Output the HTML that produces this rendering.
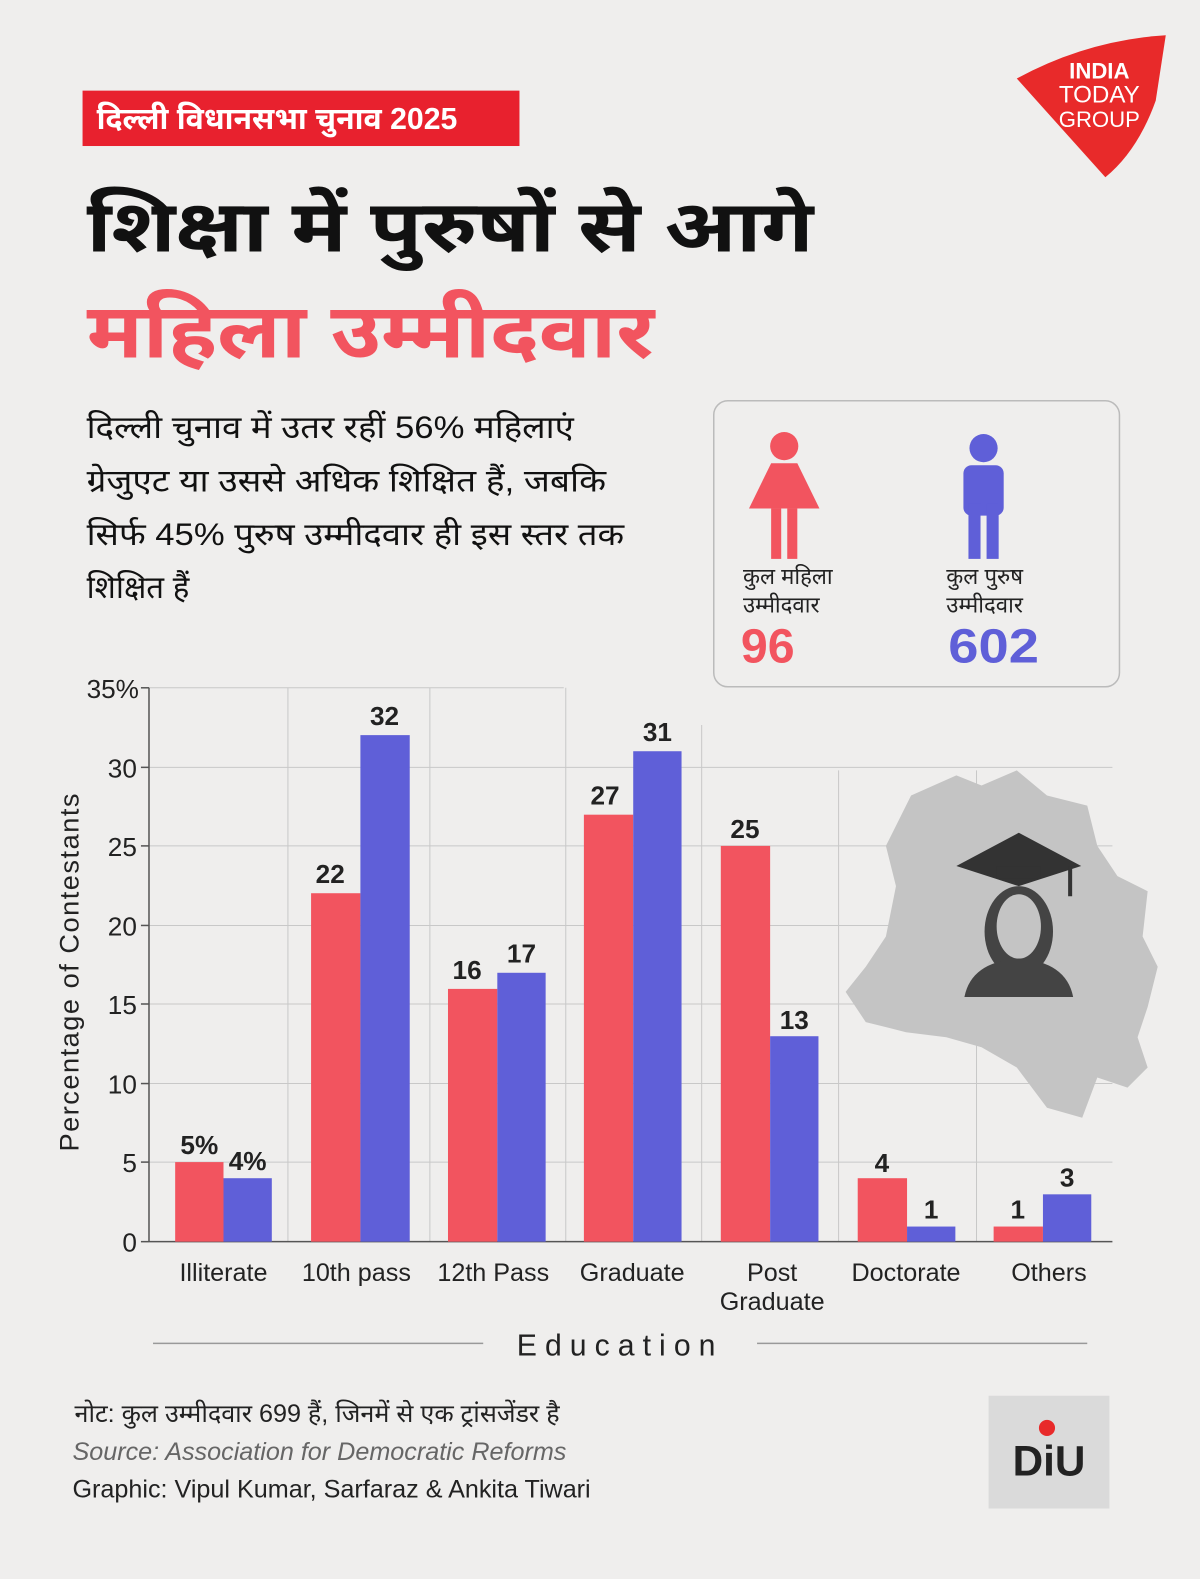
<!DOCTYPE html>
<html><head><meta charset="utf-8">
<style>
html,body{margin:0;padding:0;background:#efeeed;}
#w{width:1192px;height:1568px;transform:scale(1.00671,1.00702);transform-origin:0 0;position:relative;overflow:hidden;background:#efeeed;font-family:"Liberation Sans",sans-serif;}
svg text{font-family:"Liberation Sans","Noto Sans Devanagari","Lohit Devanagari",sans-serif;}
</style></head><body><div id="w">
<svg width="1192" height="1568" viewBox="0 0 1192 1568" xmlns="http://www.w3.org/2000/svg">
<rect width="1192" height="1568" fill="#efeeed"/>
<path d="M1010 78 Q1080 40 1158 35 L1148 100 Q1130 150 1098 176 Z" fill="#e82a2a"/>
<text x="1092" y="78" font-size="22" font-weight="bold" fill="#fff" text-anchor="middle">INDIA</text>
<text x="1092" y="102" font-size="24" fill="#fff" text-anchor="middle">TODAY</text>
<text x="1092" y="126" font-size="22" fill="#fff" text-anchor="middle">GROUP</text>
<rect x="82" y="90" width="434" height="55" fill="#e8212e"/>
<text x="96" y="128" font-size="30" font-weight="bold" fill="#fff">दिल्ली विधानसभा चुनाव 2025</text>
<text x="86" y="250" font-size="72" font-weight="bold" fill="#111" textLength="722" lengthAdjust="spacingAndGlyphs">शिक्षा में पुरुषों से आगे</text>
<text x="86" y="355" font-size="76" font-weight="bold" fill="#f2545f" textLength="564" lengthAdjust="spacingAndGlyphs">महिला उम्मीदवार</text>
<g font-size="31" fill="#111">
<text x="86" y="435" textLength="484" lengthAdjust="spacingAndGlyphs">दिल्ली चुनाव में उतर रहीं 56% महिलाएं</text>
<text x="86" y="488" textLength="516" lengthAdjust="spacingAndGlyphs">ग्रेजुएट या उससे अधिक शिक्षित हैं, जबकि</text>
<text x="86" y="541" textLength="534" lengthAdjust="spacingAndGlyphs">सिर्फ 45% पुरुष उम्मीदवार ही इस स्तर तक</text>
<text x="86" y="594">शिक्षित हैं</text>
</g>
<rect x="709" y="398" width="403" height="284" rx="14" fill="#efeeed" stroke="#bbb" stroke-width="1.5"/>
<g fill="#f2545f"><circle cx="779" cy="443" r="14"/><path d="M766 460 H792 L814 505 H744 Z"/><rect x="766" y="505" width="10" height="50"/><rect x="782" y="505" width="10" height="50"/></g>
<g fill="#5f5fd8"><circle cx="977" cy="445" r="14"/><rect x="957" y="462" width="40" height="50" rx="8"/><rect x="962" y="500" width="12" height="55"/><rect x="980" y="500" width="12" height="55"/></g>
<text x="738" y="580" font-size="22" fill="#222">कुल महिला</text><text x="738" y="608" font-size="22" fill="#222">उम्मीदवार</text>
<text x="940" y="580" font-size="22" fill="#222">कुल पुरुष</text><text x="940" y="608" font-size="22" fill="#222">उम्मीदवार</text>
<text x="736" y="658" font-size="48" font-weight="bold" fill="#f2545f">96</text>
<text x="942" y="658" font-size="48" font-weight="bold" fill="#5f5fd8" textLength="90" lengthAdjust="spacingAndGlyphs">602</text>
<g stroke="#c8c8c8" stroke-width="1">
<line x1="148" y1="1076" x2="1105" y2="1076"/><line x1="148" y1="997" x2="1105" y2="997"/><line x1="148" y1="919" x2="1105" y2="919"/><line x1="148" y1="840" x2="1105" y2="840"/><line x1="148" y1="762" x2="1105" y2="762"/><line x1="148" y1="683" x2="560" y2="683"/><line x1="148" y1="1154" x2="1105" y2="1154"/>
<line x1="286" y1="683" x2="286" y2="1233"/><line x1="427" y1="683" x2="427" y2="1233"/><line x1="562" y1="683" x2="562" y2="1233"/><line x1="697" y1="720" x2="697" y2="1233"/><line x1="833" y1="765" x2="833" y2="1233"/><line x1="970" y1="765" x2="970" y2="1233"/>
</g>
<path d="M905 790 L950 770 L975 780 L1010 765 L1040 790 L1080 800 L1090 840 L1110 870 L1140 885 L1135 930 L1150 960 L1140 1000 L1130 1030 L1140 1060 L1120 1080 L1090 1070 L1075 1110 L1040 1100 L1010 1060 L975 1040 L940 1030 L900 1025 L860 1015 L840 985 L860 960 L880 930 L890 880 L880 840 Z" fill="#c4c4c4"/>
<path d="M950 860 L1012 827 L1074 860 L1012 880 Z" fill="#333"/><rect x="990" y="860" width="44" height="12" fill="#333"/><line x1="1063" y1="860" x2="1063" y2="890" stroke="#333" stroke-width="4"/>
<ellipse cx="1012" cy="925" rx="34" ry="45" fill="#444"/><ellipse cx="1012" cy="920" rx="22" ry="32" fill="#c4c4c4"/>
<path d="M958 990 Q965 955 1012 952 Q1059 955 1066 990 Z" fill="#444"/>
<g stroke="#555" stroke-width="1.5"><line x1="148" y1="683" x2="148" y2="1233"/><line x1="148" y1="1233" x2="1105" y2="1233"/>
<line x1="140" y1="683" x2="148" y2="683"/><line x1="140" y1="762" x2="148" y2="762"/><line x1="140" y1="840" x2="148" y2="840"/><line x1="140" y1="919" x2="148" y2="919"/><line x1="140" y1="997" x2="148" y2="997"/><line x1="140" y1="1076" x2="148" y2="1076"/><line x1="140" y1="1154" x2="148" y2="1154"/><line x1="140" y1="1233" x2="148" y2="1233"/></g>
<g font-size="26" fill="#222" text-anchor="end">
<text x="138" y="693">35%</text><text x="136" y="772">30</text><text x="136" y="850">25</text><text x="136" y="929">20</text><text x="136" y="1007">15</text><text x="136" y="1086">10</text><text x="136" y="1164">5</text><text x="136" y="1243">0</text></g>
<text transform="translate(78 965) rotate(-90)" font-size="27" fill="#222" text-anchor="middle" letter-spacing="1.5">Percentage of Contestants</text>
<g fill="#f2545f">
<rect x="174" y="1154" width="48" height="79"/><rect x="309" y="887" width="49" height="346"/><rect x="445" y="982" width="49" height="251"/><rect x="580" y="809" width="49" height="424"/><rect x="716" y="840" width="49" height="393"/><rect x="852" y="1170" width="49" height="63"/><rect x="987" y="1218" width="49" height="15"/></g>
<g fill="#5f5fd8">
<rect x="222" y="1170" width="48" height="63"/><rect x="358" y="730" width="49" height="503"/><rect x="494" y="966" width="48" height="267"/><rect x="629" y="746" width="48" height="487"/><rect x="765" y="1029" width="48" height="204"/><rect x="901" y="1218" width="48" height="15"/><rect x="1036" y="1186" width="48" height="47"/></g>
<g font-size="26" font-weight="bold" fill="#222" text-anchor="middle">
<text x="198" y="1146">5%</text><text x="246" y="1162">4%</text><text x="328" y="877">22</text><text x="382" y="720">32</text><text x="464" y="972">16</text><text x="518" y="956">17</text><text x="601" y="799">27</text><text x="653" y="736">31</text><text x="740" y="832">25</text><text x="789" y="1022">13</text><text x="876" y="1164">4</text><text x="925" y="1210">1</text><text x="1011" y="1210">1</text><text x="1060" y="1178">3</text></g>
<g font-size="25" fill="#222" text-anchor="middle">
<text x="222" y="1272">Illiterate</text><text x="354" y="1272">10th pass</text><text x="490" y="1272">12th Pass</text><text x="628" y="1272">Graduate</text><text x="767" y="1272">Post</text><text x="767" y="1301">Graduate</text><text x="900" y="1272">Doctorate</text><text x="1042" y="1272">Others</text></g>
<line x1="152" y1="1334" x2="480" y2="1334" stroke="#999" stroke-width="1.5"/><line x1="752" y1="1334" x2="1080" y2="1334" stroke="#999" stroke-width="1.5"/>
<text x="616" y="1346" font-size="30" fill="#222" text-anchor="middle" letter-spacing="8">Education</text>
<text x="74" y="1412" font-size="25" fill="#222">नोट: कुल उम्मीदवार 699 हैं, जिनमें से एक ट्रांसजेंडर है</text>
<text x="72" y="1450" font-size="25" fill="#666" font-style="italic">Source: Association for Democratic Reforms</text>
<text x="72" y="1487" font-size="25" fill="#222">Graphic: Vipul Kumar, Sarfaraz &amp; Ankita Tiwari</text>
<rect x="982" y="1386" width="120" height="112" fill="#dadada"/>
<text x="1042" y="1465" font-size="42" font-weight="bold" fill="#222" text-anchor="middle">DiU</text>
<circle cx="1040" cy="1418" r="8" fill="#e82a2a"/>
</svg></div></body></html>
